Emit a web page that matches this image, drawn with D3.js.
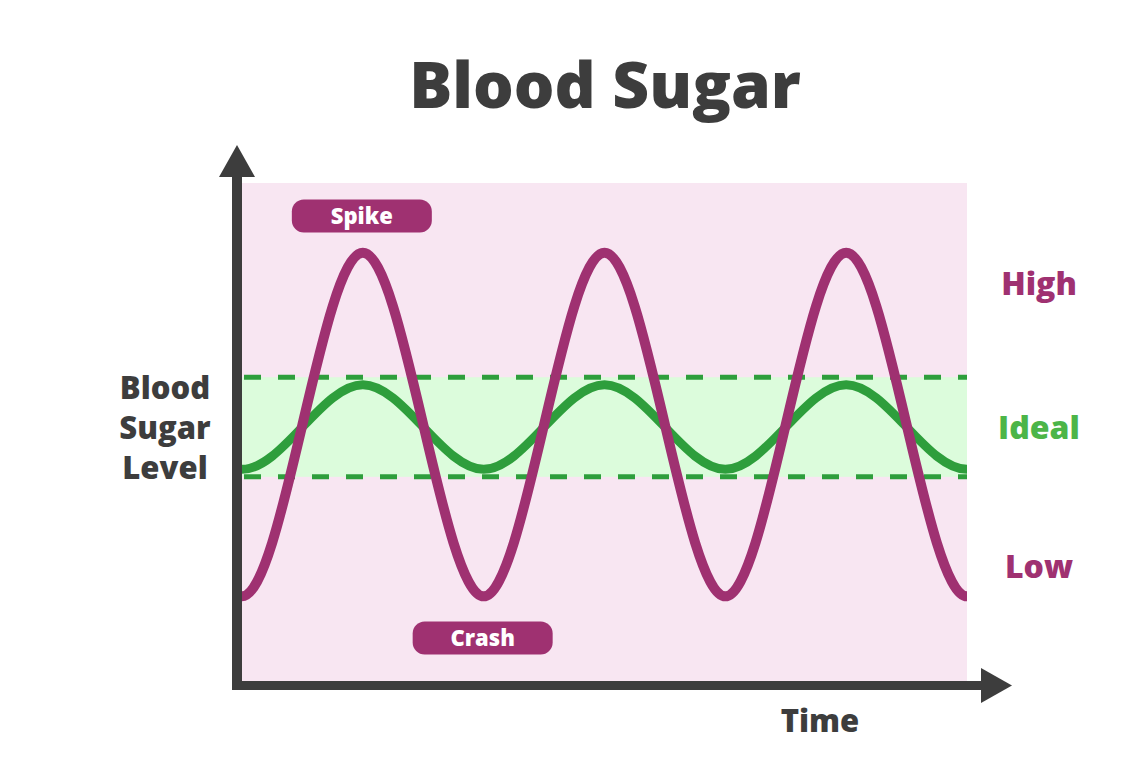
<!DOCTYPE html>
<html><head><meta charset="utf-8">
<script src="https://cdn.jsdelivr.net/npm/d3@7"></script>
<style>
html,body{margin:0;padding:0;background:#fff;}
svg{display:block;font-family:"Open Sans",sans-serif;}
</style></head>
<body>
<script>
// ---- data ----
// time points include one half-period beyond each end so the wave is flat at the edges (clipped)
const times = [-0.5, 0, 0.5, 1, 1.5, 2, 2.5, 3, 3.5];
const spikeSeries = [86, 17, 86, 17, 86, 17, 86, 17, 86];     // unhealthy blood sugar
const idealSeries = [59.5, 42.5, 59.5, 42.5, 59.5, 42.5, 59.5, 42.5, 59.5]; // stable blood sugar
const idealBand = [41, 61];
const levelLabels = ["High", "Ideal", "Low"];
const levelValues = [80, 51, 23];
const eventLabels = ["Spike", "Crash"];
const eventTimes = [0.5, 1.0];
const yLabelLines = ["Blood", "Sugar", "Level"];

const W = 1148, H = 776;
const svg = d3.select("body").append("svg").attr("width", W).attr("height", H);

const plot = {x0: 242, x1: 967, y0: 183, y1: 681};
const x = d3.scaleLinear().domain([0, 3]).range([plot.x0, plot.x1]);
const y = d3.scaleLinear().domain([0, 100]).range([plot.y1, plot.y0]);

const dark = "#3d3d3d", purple = "#9f3171", green = "#2e9e3c", lightGreen = "#4cb548";

svg.append("defs").append("clipPath").attr("id", "clip")
  .append("rect").attr("x", plot.x0).attr("y", 0).attr("width", plot.x1 - plot.x0).attr("height", H);

// title
svg.append("text").attr("x", 605).attr("y", 108).attr("text-anchor", "middle")
  .attr("font-size", 64).attr("font-weight", 800).attr("fill", dark).text("Blood Sugar");

// background
svg.append("rect").attr("x", plot.x0).attr("y", plot.y0)
  .attr("width", plot.x1 - plot.x0).attr("height", plot.y1 - plot.y0).attr("fill", "#f8e6f2");

// ideal band
svg.append("rect").attr("x", plot.x0).attr("y", y(idealBand[1]))
  .attr("width", plot.x1 - plot.x0).attr("height", y(idealBand[0]) - y(idealBand[1]))
  .attr("fill", "#dcfcdc");
idealBand.forEach(v => {
  svg.append("line").attr("x1", plot.x0 + 2).attr("x2", plot.x1).attr("y1", y(v)).attr("y2", y(v))
    .attr("stroke", green).attr("stroke-width", 5).attr("stroke-dasharray", "17,17");
});

const line = d3.line().curve(d3.curveMonotoneX);
const curves = svg.append("g").attr("clip-path", "url(#clip)");
// ideal curve
curves.append("path").attr("d", line(times.map((t, i) => [x(t), y(idealSeries[i])])))
  .attr("fill", "none").attr("stroke", green).attr("stroke-width", 9);
// spike curve
curves.append("path").attr("d", line(times.map((t, i) => [x(t), y(spikeSeries[i])])))
  .attr("fill", "none").attr("stroke", purple).attr("stroke-width", 10);

// event pills
const pillW = 140, pillH = 33;
const pillY = [216, 638];
eventLabels.forEach((lab, i) => {
  const cx = x(eventTimes[i]) - 1;
  const g = svg.append("g");
  g.append("rect").attr("x", cx - pillW / 2).attr("y", pillY[i] - pillH / 2)
    .attr("width", pillW).attr("height", pillH).attr("rx", 12).attr("fill", purple);
  g.append("text").attr("x", cx).attr("y", pillY[i] + 8).attr("text-anchor", "middle")
    .attr("font-size", 22).attr("font-weight", 800).attr("fill", "#fff").text(lab);
});

// level labels
levelLabels.forEach((lab, i) => {
  svg.append("text").attr("x", 1039).attr("y", y(levelValues[i]) + 12).attr("text-anchor", "middle")
    .attr("font-size", 32).attr("font-weight", 800)
    .attr("fill", lab === "Ideal" ? lightGreen : purple).text(lab);
});

// axes
svg.append("line").attr("x1", 237).attr("x2", 237).attr("y1", 172).attr("y2", 690)
  .attr("stroke", dark).attr("stroke-width", 10);
svg.append("path").attr("d", "M237,145 L255,177 L219,177 Z").attr("fill", dark);
svg.append("line").attr("x1", 232).attr("x2", 985).attr("y1", 685.5).attr("y2", 685.5)
  .attr("stroke", dark).attr("stroke-width", 9);
svg.append("path").attr("d", "M1012,685.5 L981,668 L981,703 Z").attr("fill", dark);

// axis titles
svg.append("text").attr("x", 820).attr("y", 732).attr("text-anchor", "middle")
  .attr("font-size", 31).attr("font-weight", 800).attr("fill", dark).text("Time");
yLabelLines.forEach((l, i) => {
  svg.append("text").attr("x", 165).attr("y", 399 + i * 40).attr("text-anchor", "middle")
    .attr("font-size", 31).attr("font-weight", 800).attr("fill", dark).text(l);
});
</script>
</body></html>
